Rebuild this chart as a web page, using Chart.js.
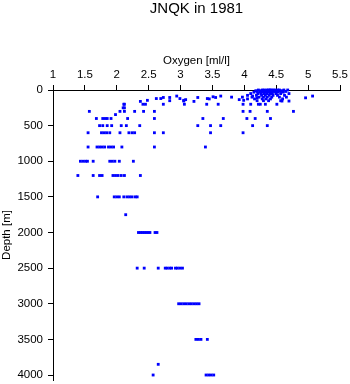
<!DOCTYPE html>
<html>
<head>
<meta charset="utf-8">
<script src="https://cdn.jsdelivr.net/npm/chart.js@4.4.0/dist/chart.umd.min.js"></script>
<style>
    html, body { margin: 0; padding: 0; background: #fff; }
</style>
</head>
<body>
<canvas id="oxygenChart" width="350" height="384"></canvas>
<script>
// sampled depths (m) and the oxygen readings (ml/l) found at each of them
const depthLevels = [0, 10, 20, 30, 50, 75, 85, 95, 100, 105, 110, 120, 125, 135, 145, 150, 155, 160,
    200, 250, 300, 345, 400, 500, 600, 800, 1000, 1200, 1500, 1750, 2000, 2500, 3000, 3500, 3850, 4000];
const oxygenAtLevel = [
    [4.22, 4.28, 4.31, 4.35, 4.38, 4.40, 4.42, 4.45, 4.48, 4.52, 4.55, 4.62, 4.68],
    [4.18, 4.25, 4.30, 4.34, 4.37, 4.41, 4.44, 4.47, 4.50, 4.56, 4.60],
    [4.20, 4.27, 4.32, 4.36, 4.39, 4.43, 4.46, 4.51, 4.58, 4.65],
    [4.15, 4.24, 4.29, 4.33, 4.38, 4.42, 4.49, 4.53, 4.61],
    [4.10, 4.21, 4.26, 4.31, 4.35, 4.40, 4.44, 4.50, 4.57, 4.70],
    [4.05, 4.19, 4.27, 4.33, 4.39, 4.45, 4.52, 4.63],
    [2.94, 3.63, 4.13, 5.07],
    [3.51],
    [3.80, 3.97, 4.12, 4.23, 4.30, 4.36, 4.43, 4.55, 4.66],
    [2.73, 2.83, 3.27, 3.55],
    [4.20, 4.96],
    [2.62, 2.69, 2.99, 3.42],
    [3.45, 4.05, 4.16, 4.28, 4.34, 4.41, 4.60],
    [3.08, 3.92],
    [2.48, 3.05, 3.99],
    [2.83, 4.20, 4.30, 4.38, 4.57],
    [3.05, 4.59, 4.70],
    [2.37, 3.21],
    [2.11, 2.12, 2.41, 2.45, 2.73, 3.06, 3.41, 3.59, 3.98, 4.10, 4.22, 4.25, 4.33, 4.51],
    [2.10, 2.12],
    [1.57, 2.05, 2.12, 2.28, 2.42, 2.59, 3.98, 4.09, 4.36, 4.77],
    [1.98],
    [1.68, 1.78, 1.82, 1.85, 1.91, 2.17, 2.59, 3.35, 3.67, 4.04, 4.17, 4.41],
    [1.73, 1.78, 1.85, 1.92, 2.07, 2.15, 2.36, 3.27, 3.47, 3.63, 4.13, 4.36],
    [1.55, 1.76, 1.80, 1.84, 1.89, 2.05, 2.19, 2.24, 2.28, 2.59, 2.73, 3.47, 3.98],
    [1.55, 1.69, 1.73, 1.77, 1.81, 1.87, 1.91, 1.95, 2.08, 2.59, 3.39],
    [1.43, 1.47, 1.51, 1.54, 1.63, 1.89, 1.93, 1.97, 2.04, 2.26],
    [1.39, 1.63, 1.73, 1.77, 1.94, 1.98, 2.02, 2.07, 2.12, 2.37],
    [1.70, 1.96, 2.00, 2.04, 2.11, 2.16, 2.20, 2.24, 2.29, 2.32],
    [2.14],
    [2.34, 2.37, 2.40, 2.43, 2.46, 2.49, 2.52, 2.60, 2.63],
    [2.32, 2.43, 2.65, 2.76, 2.79, 2.83, 2.86, 2.92, 2.95, 2.99, 3.03],
    [2.97, 3.01, 3.05, 3.09, 3.13, 3.17, 3.21, 3.25, 3.29],
    [3.24, 3.28, 3.32, 3.42],
    [2.65],
    [2.57, 3.40, 3.44, 3.48, 3.52]
];
const oxygenTicks = [1, 1.5, 2, 2.5, 3, 3.5, 4, 4.5, 5, 5.5];
const depthTicks = [0, 500, 1000, 1500, 2000, 2500, 3000, 3500, 4000];

const fontFamily = '"Liberation Sans", Arial, sans-serif';

// drop the label overflow padding so the plot area stays where we put it
function noPadding(scale) {
    scale.paddingTop = 0;
    scale.paddingBottom = 0;
    scale.paddingLeft = 0;
    scale.paddingRight = 0;
}

window.onload = () => {
    const points = [];
    depthLevels.forEach((d, i) => {
        oxygenAtLevel[i].forEach(o => points.push({ x: o, y: d }));
    });

    const ctx = document.getElementById('oxygenChart').getContext('2d');
    new Chart(ctx, {
        type: 'scatter',
        data: {
            datasets: [{
                data: points,
                pointStyle: 'rect',
                pointRadius: 2,
                pointBorderWidth: 0,
                backgroundColor: '#0000ff',
                borderColor: '#0000ff',
                clip: false
            }]
        },
        options: {
            responsive: false,
            animation: false,
            devicePixelRatio: 1,
            layout: { padding: { left: 0, right: 10, top: 0, bottom: 4 } },
            plugins: {
                legend: { display: false },
                tooltip: { enabled: false },
                title: {
                    display: true,
                    text: 'JNQK in 1981',
                    fullSize: false,
                    color: '#000',
                    font: { family: fontFamily, size: 15, weight: 'normal' },
                    padding: { top: 0, bottom: 32 }
                }
            },
            scales: {
                x: {
                    type: 'linear',
                    position: 'top',
                    min: 1,
                    max: 5.5,
                    afterBuildTicks: axis => { axis.ticks = oxygenTicks.map(v => ({ value: v })); },
                    afterFit: scale => { scale.height = 40; noPadding(scale); },
                    ticks: {
                        color: '#000',
                        padding: 3,
                        maxRotation: 0,
                        font: { family: fontFamily, size: 11.5 },
                        callback: v => String(v)
                    },
                    grid: { drawOnChartArea: false, tickLength: 5, color: '#000' },
                    border: { color: '#000', width: 1 },
                    title: {
                        display: true,
                        text: 'Oxygen [ml/l]',
                        color: '#000',
                        font: { family: fontFamily, size: 11.5 },
                        padding: { top: 4, bottom: 0 }
                    }
                },
                y: {
                    type: 'linear',
                    reverse: true,
                    min: 0,
                    max: 4070,
                    afterBuildTicks: axis => { axis.ticks = depthTicks.map(v => ({ value: v })); },
                    afterFit: scale => { scale.width = 53; noPadding(scale); },
                    ticks: {
                        color: '#000',
                        padding: 5,
                        font: { family: fontFamily, size: 11.5 },
                        callback: v => String(v)
                    },
                    grid: { drawOnChartArea: false, tickLength: 5, color: '#000' },
                    border: { color: '#000', width: 1 },
                    title: {
                        display: true,
                        text: 'Depth [m]',
                        color: '#000',
                        font: { family: fontFamily, size: 11.5 },
                        padding: { top: 0, bottom: 0 }
                    }
                }
            }
        }
    });
};
</script>
</body>
</html>
